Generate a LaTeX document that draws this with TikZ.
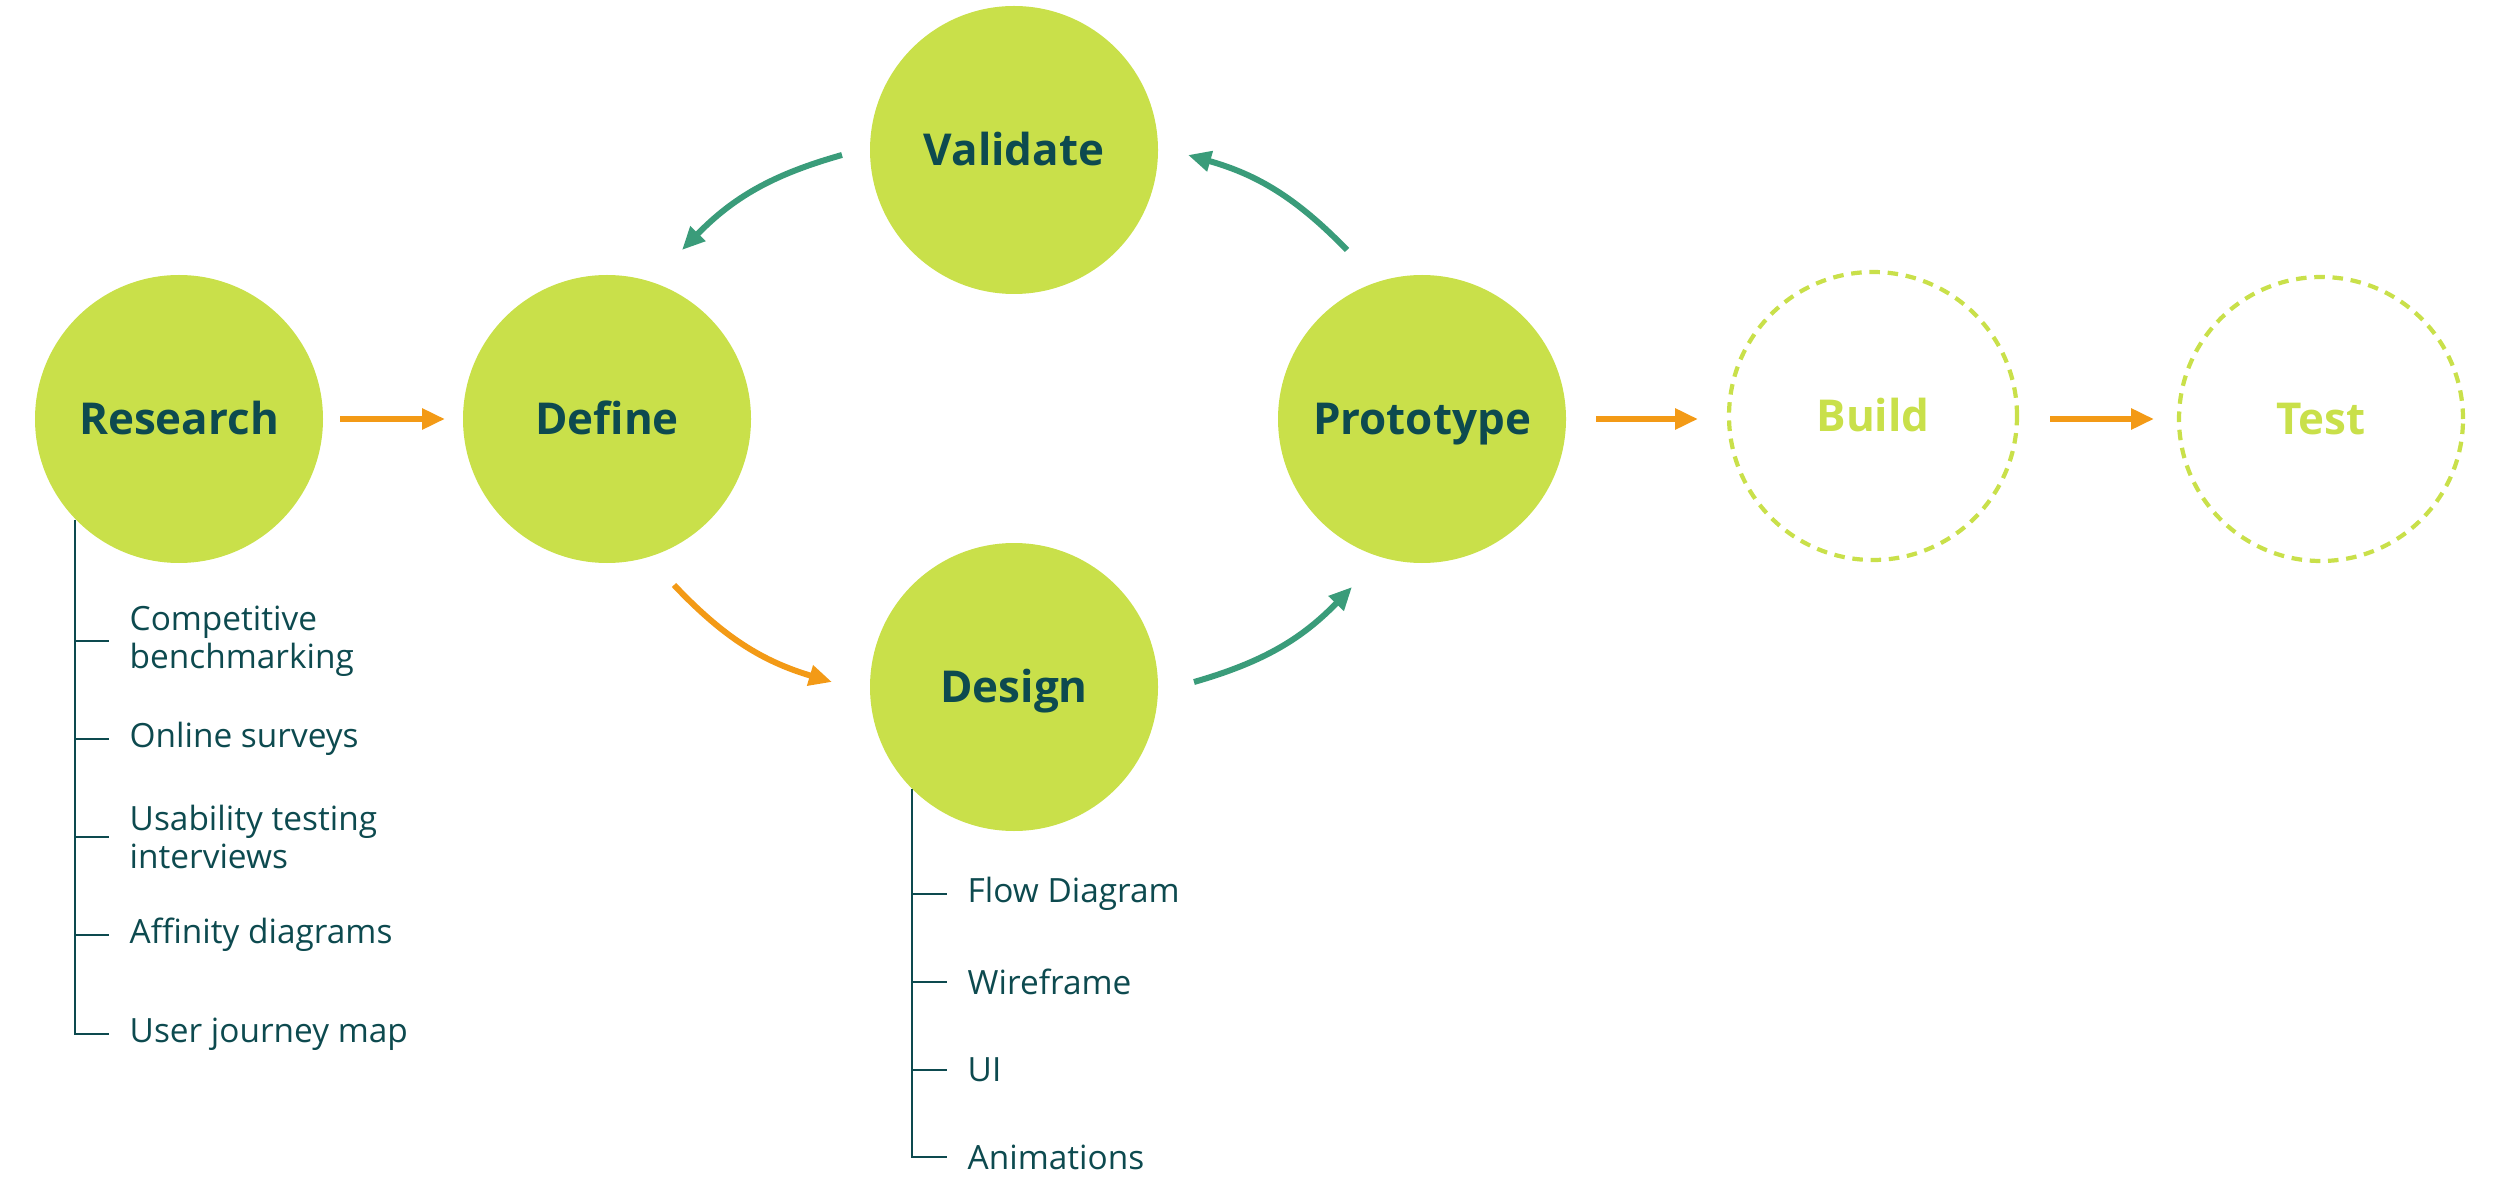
\documentclass[tikz,border=0pt]{standalone}
\usepackage{fontspec}
\setmainfont{Open Sans}
\usetikzlibrary{calc}
\usetikzlibrary{arrows.meta}

\definecolor{lime}{HTML}{C9E04A}
\definecolor{darkteal}{HTML}{0D4A4F}
\definecolor{cyclegreen}{HTML}{3A9C7A}
\definecolor{floworange}{HTML}{F39A16}

\tikzset{
  phase/.style={circle, fill=lime, minimum size=2.88cm, inner sep=0pt, text height=0.9em, text depth=0pt, text=darkteal, font=\fontsize{12.5}{15}\selectfont\bfseries},
  later/.style={circle, draw=lime, dash pattern=on 3pt off 2.2pt, line width=1.2pt, minimum size=2.88cm, inner sep=0pt, text height=0.9em, text depth=0pt, text=lime, font=\fontsize{12.5}{15}\selectfont\bfseries},
  item/.style={anchor=west, align=left, inner xsep=2mm, inner ysep=0pt, text=darkteal, font=\fontsize{9.5}{10.8}\selectfont},
  listline/.style={draw=darkteal, line width=0.6pt},
  steparrow/.style={floworange, line width=1.7pt, -{Triangle[length=2.3mm,width=2mm]}},
  looparrow/.style={cyclegreen, line width=1.7pt, -{Triangle[length=2.3mm,width=2mm]}}
}

\begin{document}
\begin{tikzpicture}
        \useasboundingbox (0,0) rectangle (25,11.77);
        \node[phase] at (1.79,7.58) (research) {Research};
        \node[phase] at (6.07,7.58) (define) {Define};
        \node[phase] at (10.14,10.27) (validate) {Validate};
        \node[phase] at (10.14,4.90) (design) {Design};
        \node[phase] at (14.22,7.58) (prototype) {Prototype};
        \node[later] at (18.73,7.61) (build) {Build};
        \node[later, minimum size=2.84cm] at (23.21,7.58) (test) {Test};
        \draw[steparrow] ($(research)+(1.61,0)$) -- ($(define)+(-1.62,0)$);
        \draw[steparrow] ($(prototype)+(1.74,0)$) -- ($(build)+(-1.75,-0.03)$);
        \draw[steparrow] ($(build)+(1.77,-0.03)$) -- ($(test)+(-1.67,0)$);
        \draw[steparrow] ($(define)+(0.67,-1.66)$) to[bend right=15] ($(design)+(-1.82,0.05)$);
        \draw[looparrow] ($(design)+(1.80,0.05)$) to[bend right=15] ($(prototype)+(-0.70,-1.68)$);
        \draw[looparrow] ($(prototype)+(-0.75,1.69)$) to[bend right=15] ($(validate)+(1.74,-0.05)$);
        \draw[looparrow] ($(validate)+(-1.72,-0.05)$) to[bend right=15] ($(define)+(0.75,1.69)$);
        \node[item] at (1.09,5.36) (benchmarking) {Competitive\\benchmarking};
        \node[item] at (1.09,4.38) (surveys) {Online surveys};
        \node[item] at (1.09,3.40) (usability) {Usability testing\\interviews};
        \node[item] at (1.09,2.42) (affinity) {Affinity diagrams};
        \node[item] at (1.09,1.43) (journey) {User journey map};
        \draw[listline] (research.224) |- (journey.west);
        \foreach \n in {benchmarking,surveys,usability,affinity}
            \draw[listline] (research.224 |- \n.west) -- (\n.west);
        \node[item] at (9.47,2.83) (flow) {Flow Diagram};
        \node[item] at (9.47,1.95) (wireframe) {Wireframe};
        \node[item] at (9.47,1.07) (ui) {UI};
        \node[item] at (9.47,0.20) (animations) {Animations};
        \draw[listline] (design.225) |- (animations.west);
        \foreach \n in {flow,wireframe,ui}
            \draw[listline] (design.225 |- \n.west) -- (\n.west);
    \end{tikzpicture}
\end{document}
